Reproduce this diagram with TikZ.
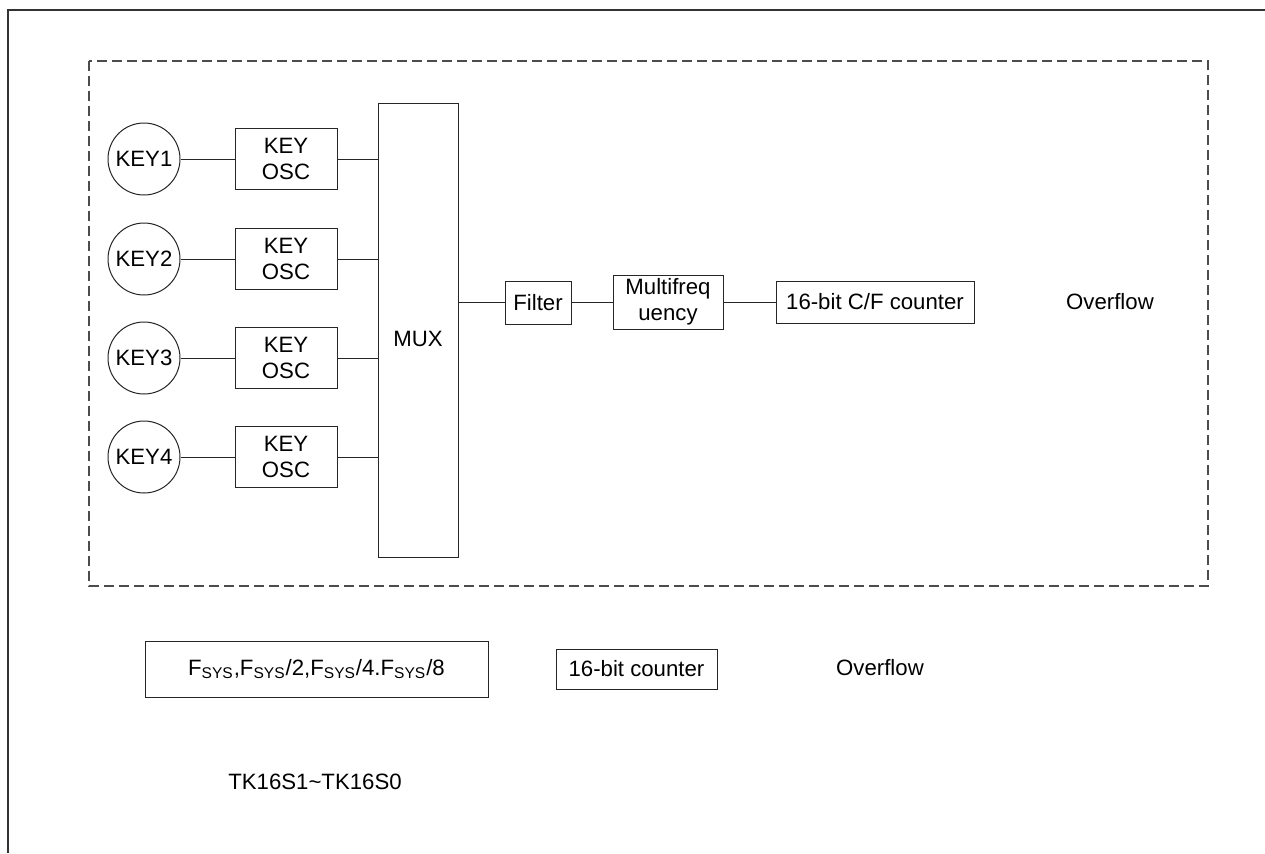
\documentclass[tikz,border=0pt]{standalone}
\usepackage{fontspec}
\setmainfont{Liberation Sans}
\begin{document}
\begin{tikzpicture}[x=0.5pt,y=-0.5pt,
  every node/.style={font=\fontsize{11.1}{13}\selectfont, text=black},
  box/.style={draw=black!85, line width=0.5pt, inner sep=0pt, align=center},
  keyc/.style={draw=black!85, line width=0.5pt, circle, minimum size=36pt, inner sep=0pt},
  wire/.style={draw=black!85, line width=0.5pt},
  frame/.style={draw=black!80, line width=1pt},
  dashbox/.style={draw=black!70, line width=0.6pt, dash pattern=on 5pt off 2.5pt}]
\useasboundingbox (0,0) rectangle (1265,853);
\fill[white] (0,0) rectangle (1265,853);
% outer frame
\draw[frame] (7.5,853) -- (7.5,9.5) -- (1265,9.5);
% dashed region
\draw[dashbox] (89,61) rectangle (1208,586);
% keys
\node[keyc] (k1) at (144,159) {KEY1};
\node[keyc] (k2) at (144,259) {KEY2};
\node[keyc] (k3) at (144,358) {KEY3};
\node[keyc] (k4) at (144,457) {KEY4};
% osc boxes
\node[box, minimum width=51pt, minimum height=30.5pt] (o1) at (286,159) {KEY\\OSC};
\node[box, minimum width=51pt, minimum height=30.5pt] (o2) at (286,259) {KEY\\OSC};
\node[box, minimum width=51pt, minimum height=30.5pt] (o3) at (286,358) {KEY\\OSC};
\node[box, minimum width=51pt, minimum height=30.5pt] (o4) at (286,457) {KEY\\OSC};
% mux
\node[box, minimum width=40pt, minimum height=227pt, text height=16pt, text depth=0pt] (mux) at (418,330) {MUX};
% chain
\node[box, minimum width=33pt, minimum height=21.5pt] (filt) at (538,302.5) {Filter};
\node[box, minimum width=55pt, minimum height=27pt] (mf) at (668,302) {Multifreq\\uency};
\node[box, minimum width=99pt, minimum height=21pt] (cnt) at (875,302) {16-bit C/F counter};
\node (ov1) at (1110,302) {Overflow};
% wires
\draw[wire] (k1) -- (o1);
\draw[wire] (k2) -- (o2);
\draw[wire] (k3) -- (o3);
\draw[wire] (k4) -- (o4);
\draw[wire] (o1.east) -- (o1.east -| mux.west);
\draw[wire] (o2.east) -- (o2.east -| mux.west);
\draw[wire] (o3.east) -- (o3.east -| mux.west);
\draw[wire] (o4.east) -- (o4.east -| mux.west);
\draw[wire] (filt.west -| mux.east) -- (filt.west);
\draw[wire] (filt.east) -- (filt.east -| mf.west);
\draw[wire] (mf.east) -- (mf.east -| cnt.west);
% bottom
\node[box, minimum width=171.5pt, minimum height=28pt] (fsys) at (316.5,669) {F\textsubscript{SYS},F\textsubscript{SYS}/2,F\textsubscript{SYS}/4.F\textsubscript{SYS}/8};
\node[box, minimum width=80.5pt, minimum height=20pt] (c16) at (636.5,669) {16-bit counter};
\node (ov2) at (880,668) {Overflow};
\node (tk) at (315,782) {TK16S1\textasciitilde TK16S0};
\end{tikzpicture}
\end{document}
